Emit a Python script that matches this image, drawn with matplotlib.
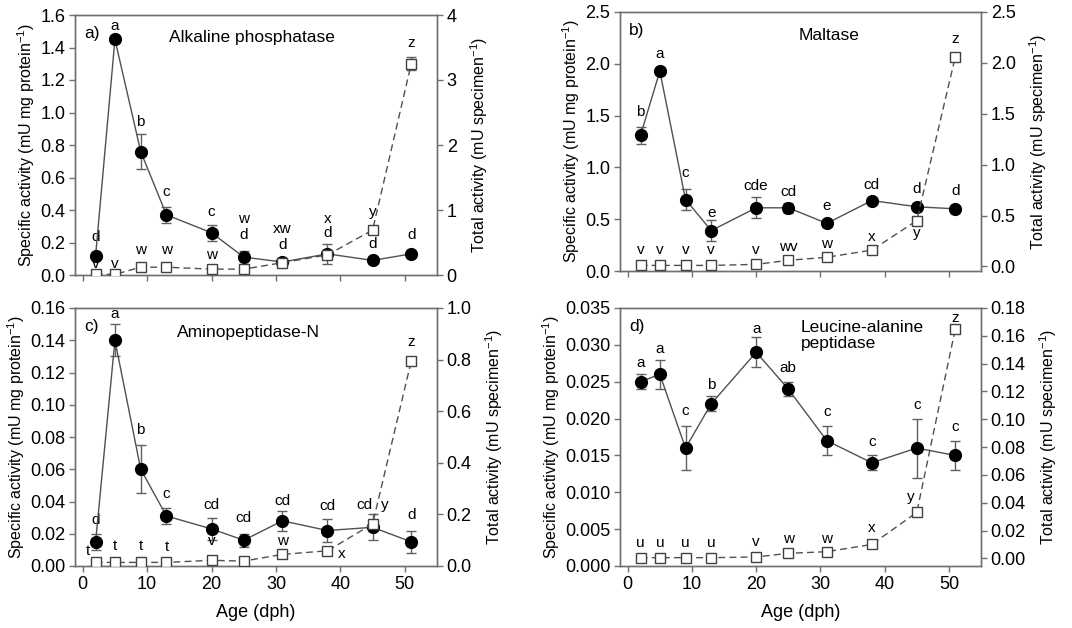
import matplotlib
matplotlib.use("Agg")
import matplotlib.pyplot as plt

plt.rcParams['font.family'] = ['Liberation Sans', 'DejaVu Sans']
plt.rcParams['mathtext.fontset'] = 'custom'
plt.rcParams['mathtext.rm'] = 'Liberation Sans'
plt.rcParams['mathtext.it'] = 'Liberation Sans:italic'

# ---------------- data ----------------
ages = [2, 5, 9, 13, 20, 25, 31, 38, 45, 51]

# a) Alkaline phosphatase
alp_spec = [0.12, 1.45, 0.76, 0.37, 0.26, 0.11, 0.08, 0.13, 0.09, 0.13]
alp_spec_err = [0.01, 0.0, 0.11, 0.05, 0.05, 0.04, 0.01, 0.06, 0.0, 0.0]
alp_tot = [0.01, 0.01, 0.12, 0.12, 0.09, 0.09, 0.19, 0.31, 0.69, 3.25]
alp_tot_err = [0, 0, 0, 0, 0, 0, 0, 0, 0, 0.10]
alp_spec_letters = ['d', 'a', 'b', 'c', 'c', 'd', 'd', 'd', 'd', 'd']
alp_tot_letters = ['v', 'v', 'w', 'w', 'w', 'w', 'xw', 'x', 'y', 'z']

# b) Maltase
mal_spec = [1.31, 1.93, 0.69, 0.39, 0.61, 0.61, 0.46, 0.68, 0.62, 0.60]
mal_spec_err = [0.08, 0.0, 0.10, 0.10, 0.10, 0.05, 0.0, 0.0, 0.0, 0.0]
mal_tot = [0.01, 0.01, 0.01, 0.01, 0.02, 0.06, 0.09, 0.16, 0.45, 2.06]
mal_tot_err = [0, 0, 0, 0, 0, 0, 0, 0, 0, 0]
mal_spec_letters = ['b', 'a', 'c', 'e', 'cde', 'cd', 'e', 'cd', 'd', 'd']
mal_tot_letters = ['v', 'v', 'v', 'v', 'v', 'wv', 'w', 'x', 'y', 'z']

# c) Aminopeptidase-N
apn_spec = [0.015, 0.140, 0.060, 0.031, 0.023, 0.016, 0.028, 0.022, 0.024, 0.015]
apn_spec_err = [0.005, 0.010, 0.015, 0.005, 0.007, 0.004, 0.006, 0.007, 0.008, 0.007]
apn_tot = [0.014, 0.014, 0.014, 0.014, 0.022, 0.019, 0.045, 0.059, 0.163, 0.794]
apn_tot_err = [0, 0, 0, 0, 0, 0, 0, 0, 0, 0.012]
apn_spec_letters = ['d', 'a', 'b', 'c', 'cd', 'cd', 'cd', 'cd', 'cd', 'd']
apn_tot_letters = ['t', 't', 't', 't', 'v', 'v', 'w', 'x', 'y', 'z']

# d) Leucine-alanine peptidase
lap_spec = [0.025, 0.026, 0.016, 0.022, 0.029, 0.024, 0.017, 0.014, 0.016, 0.015]
lap_spec_err = [0.001, 0.002, 0.003, 0.001, 0.002, 0.001, 0.002, 0.001, 0.004, 0.002]
lap_tot = [0.0005, 0.0005, 0.0005, 0.0005, 0.001, 0.0036, 0.0048, 0.010, 0.033, 0.165]
lap_tot_err = [0, 0, 0, 0, 0, 0, 0, 0, 0, 0.002]
lap_spec_letters = ['a', 'a', 'c', 'b', 'a', 'ab', 'c', 'c', 'c', 'c']
lap_tot_letters = ['u', 'u', 'u', 'u', 'v', 'w', 'w', 'x', 'y', 'z']

# axis ticks
alp_left_ticks = [0.0, 0.2, 0.4, 0.6, 0.8, 1.0, 1.2, 1.4, 1.6]
alp_right_ticks = [0, 1, 2, 3, 4]
mal_left_ticks = [0.0, 0.5, 1.0, 1.5, 2.0, 2.5]
mal_right_ticks = [0.0, 0.5, 1.0, 1.5, 2.0, 2.5]
apn_left_ticks = [0.00, 0.02, 0.04, 0.06, 0.08, 0.10, 0.12, 0.14, 0.16]
apn_right_ticks = [0.0, 0.2, 0.4, 0.6, 0.8, 1.0]
lap_left_ticks = [0.000, 0.005, 0.010, 0.015, 0.020, 0.025, 0.030, 0.035]
lap_right_ticks = [0.00, 0.02, 0.04, 0.06, 0.08, 0.10, 0.12, 0.14, 0.16, 0.18]
age_ticks = [0, 10, 20, 30, 40, 50]

# ---------------- layout (label offsets in pixels) ----------------
layout = {
    'a': dict(rect=[75, 15, 437, 275], lfmt='{:.1f}', rfmt='{:.0f}', rlow=0.0,
              title='Alkaline phosphatase', tpos=(0.49, 0.915), tha='center',
              sdy=[19, 13, 30, 23, 21, 22, 17, 21, 16, 19], sdx=[0] * 10,
              tdy=[10, 10, 17, 17, 14, 50, 34, 36, 18, 21], tdx=[0] * 10),
    'b': dict(rect=[620, 12, 981, 271], lfmt='{:.1f}', rfmt='{:.1f}', rlow=-0.045,
              title='Maltase', tpos=(0.58, 0.91), tha='center',
              sdy=[23, 17, 27, 18, 22, 16, 17, 16, 18, 18], sdx=[0] * 10,
              tdy=[15, 15, 15, 15, 14, 13, 13, 13, -12, 18], tdx=[0] * 10),
    'c': dict(rect=[75, 308, 437, 566], lfmt='{:.2f}', rfmt='{:.1f}', rlow=0.0,
              title='Aminopeptidase-N', tpos=(0.48, 0.905), tha='center',
              sdy=[22, 26, 39, 22, 24, 22, 20, 25, 22, 27],
              sdx=[0, 0, 0, 0, 0, 0, 0, 0, -8, 0],
              tdy=[11, 16, 16, 15, 19, 17, 13, -3, 19, 19],
              tdx=[-8, 0, 0, 0, 0, 0, 0, 14, 12, 0]),
    'd': dict(rect=[620, 308, 981, 566], lfmt='{:.3f}', rfmt='{:.2f}', rlow=-0.0055,
              title='Leucine-alanine\npeptidase', tpos=(0.50, 0.955), tha='left',
              sdy=[19, 25, 37, 19, 23, 21, 29, 21, 43, 28], sdx=[0] * 10,
              tdy=[15, 15, 15, 15, 15, 14, 13, 16, 15, 11],
              tdx=[0, 0, 0, 0, 0, 0, 0, 0, -6, 0]),
}

panels = [
    ('a', alp_spec, alp_spec_err, alp_tot, alp_tot_err, alp_spec_letters, alp_tot_letters,
     alp_left_ticks, alp_right_ticks, False),
    ('b', mal_spec, mal_spec_err, mal_tot, mal_tot_err, mal_spec_letters, mal_tot_letters,
     mal_left_ticks, mal_right_ticks, False),
    ('c', apn_spec, apn_spec_err, apn_tot, apn_tot_err, apn_spec_letters, apn_tot_letters,
     apn_left_ticks, apn_right_ticks, True),
    ('d', lap_spec, lap_spec_err, lap_tot, lap_tot_err, lap_spec_letters, lap_tot_letters,
     lap_left_ticks, lap_right_ticks, True),
]

W, H = 1072, 628
fig = plt.figure(figsize=(W / 100, H / 100), dpi=100)

spine_col = '#707070'
line_col = '#505050'
err_col = '#606060'
tick_fs = 13
lab_fs = 11.5
title_fs = 12.5
let_fs = 11

for key, spec, spec_err, tot, tot_err, sl, tl, lt, rt, show_x in panels:
    L = layout[key]
    x0, y0, x1, y1 = L['rect']
    ax = fig.add_axes([x0 / W, 1 - y1 / H, (x1 - x0) / W, (y1 - y0) / H])
    ax2 = ax.twinx()

    ax.errorbar(ages, spec, yerr=spec_err, color=line_col, lw=1.0, marker='o',
                ms=8.5, mfc='black', mec='black', ecolor=err_col, elinewidth=1.0,
                capsize=3.5, capthick=1.0, zorder=3)
    ax2.errorbar(ages, tot, yerr=tot_err, color=line_col, lw=1.0, ls=(0, (5, 3)),
                 marker='s', ms=7, mfc='white', mec='#404040', mew=1.0,
                 ecolor=err_col, elinewidth=1.0, capsize=3.5, capthick=1.0, zorder=3)

    ax.set_xlim(-1.2, 55)
    ax.set_ylim(lt[0], lt[-1])
    ax2.set_ylim(L['rlow'], rt[-1])
    ax.set_yticks(lt)
    ax.set_yticklabels([L['lfmt'].format(v) for v in lt])
    ax2.set_yticks(rt)
    ax2.set_yticklabels([L['rfmt'].format(v) for v in rt])
    ax.set_xticks(age_ticks)
    if show_x:
        ax.set_xticklabels([str(v) for v in age_ticks])
        ax.set_xlabel('Age (dph)', fontsize=tick_fs, labelpad=8)
    else:
        ax.set_xticklabels([])

    for a in (ax, ax2):
        for s in a.spines.values():
            s.set_color(spine_col)
            s.set_linewidth(1.0)
        a.tick_params(direction='out', length=4, width=1.0, color=spine_col,
                      labelsize=tick_fs, pad=3)
    ax.set_ylabel('Specific activity (mU mg protein$^{-1}$)', fontsize=lab_fs, labelpad=2)
    ax2.set_ylabel('Total activity (mU specimen$^{-1}$)', fontsize=lab_fs, labelpad=8,
                   rotation=90)

    ax.text(0.025, 0.93, key + ')', transform=ax.transAxes, fontsize=title_fs,
            ha='left', va='center')
    ax.text(L['tpos'][0], L['tpos'][1], L['title'], transform=ax.transAxes,
            fontsize=title_fs, ha=L['tha'], va='top' if '\n' in L['title'] else 'center',
            linespacing=1.15)

    for i, x in enumerate(ages):
        ax.annotate(sl[i], xy=(x, spec[i]), xytext=(L['sdx'][i], L['sdy'][i]),
                    textcoords='offset pixels', ha='center', va='center',
                    fontsize=let_fs)
        ax2.annotate(tl[i], xy=(x, tot[i]), xytext=(L['tdx'][i], L['tdy'][i]),
                     textcoords='offset pixels', ha='center', va='center',
                     fontsize=let_fs)

fig.savefig('out.png', dpi=100)
